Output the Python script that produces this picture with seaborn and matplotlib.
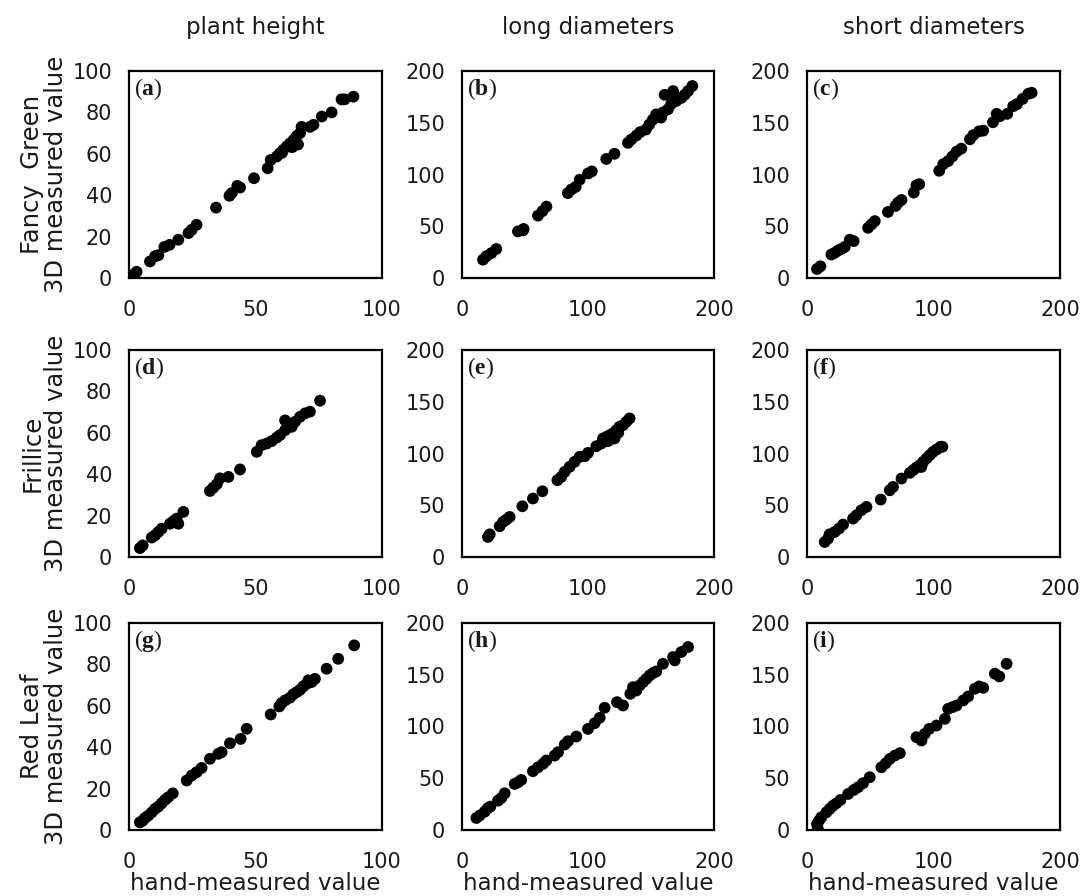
import pandas as pd
import matplotlib.pyplot as plt
import seaborn as sns

sns.set_style("white")
plt.rcParams['font.family'] = ['DejaVu Sans']
plt.rcParams['mathtext.fontset'] = 'custom'
plt.rcParams['mathtext.rm'] = 'Liberation Serif'
plt.rcParams['mathtext.bf'] = 'Liberation Serif:bold'

# column / row headers
col_titles = ['plant height', 'long diameters', 'short diameters']
row_titles = ['Fancy  Green', 'Frillice', 'Red Leaf']
panel_letters = ['a', 'b', 'c', 'd', 'e', 'f', 'g', 'h', 'i']
axis_max = [100, 200, 200]
y_ticks = [[0, 20, 40, 60, 80, 100], [0, 50, 100, 150, 200], [0, 50, 100, 150, 200]]
x_ticks = [[0, 50, 100], [0, 100, 200], [0, 100, 200]]

# (a) Fancy Green - plant height
a_x = [1.7, 3, 8.3, 10.3, 11.6, 14, 16, 19.5, 23.5, 24.8, 26.7, 34.4, 39.7, 40.6, 42.8, 43.9, 49.4, 54.8, 56, 58.4,
       59.7, 61, 62.3, 63.6, 65, 66.3, 67.6, 68.2, 71.5, 72.9, 76.2, 80.1, 84, 85.2, 88.7, 64.5, 66.8, 60.5, 0.8]
a_y = [1.6, 3, 8, 10.5, 11, 15, 16, 18.5, 21.7, 23.3, 25.7, 34, 39.7, 41, 44.5, 43.7, 48.2, 53, 57, 58.7,
       60.3, 61.9, 63.5, 65, 66.6, 68.6, 70, 73, 73, 74, 78, 80, 86.3, 86.3, 87.6, 63.2, 64.5, 60.5, 1.0]
# (b) Fancy Green - long diameters
b_x = [16.7, 19.3, 23.3, 27.2, 44.4, 48.9, 48.4, 60.3, 63.8, 67, 84, 86.8, 90.2, 93.4, 100, 103, 114.5, 121, 131.7,
       134.4, 138.4, 141.5, 146, 148.7, 151.4, 154, 158, 159.5, 163.5, 166, 168.8, 170, 174, 176.7, 179.4, 182.8,
       160.8, 167.5]
b_y = [17.7, 21, 24, 28, 45, 47.4, 46, 60.3, 64.5, 69, 82, 85.5, 88, 95, 101, 103, 115, 120, 130.6,
       133.9, 137.7, 141, 143.5, 148.4, 153, 158, 155, 160, 163, 168, 176, 171, 174, 177, 180.6, 185.5,
       177, 180.6]
# (c) Fancy Green - short diameters
c_x = [7.9, 10.6, 19.3, 21.9, 24.5, 27.2, 29.8, 33.8, 36.9, 48.3, 50.9, 53.6, 64, 70, 72, 74.7, 84.4, 86.5, 88.7,
       104.5, 107.7, 111.6, 115, 118.2, 122, 128.8, 131.4, 136, 139.3, 147, 149.9, 152.5, 158.3, 163, 166, 170.4,
       175, 177.6]
c_y = [8.7, 11.3, 22.7, 24.3, 26.5, 28, 30, 37, 35.6, 48.5, 51.8, 55, 63.8, 69.6, 72.8, 75.4, 82.5, 89.6, 90.6,
       103.6, 110, 113, 117.5, 122, 125, 134, 138, 141.7, 142.4, 150.5, 158.6, 156.3, 158.6, 166, 168, 173,
       178, 179]
# (d) Frillice - plant height
d_x = [4.3, 5.4, 9, 10.3, 11.6, 12.9, 16.2, 17.5, 18.8, 19.5, 21.5, 32, 33.3, 34.7, 36, 39.3, 43.9, 50.5, 52.4,
       54.4, 56.4, 58.4, 59.7, 61.7, 61.7, 63, 64.3, 65.6, 67.6, 69.6, 71.5, 75.5]
d_y = [4.3, 5.6, 9.4, 10.5, 12.1, 13.7, 16.1, 17.3, 18.5, 16.1, 21.8, 31.9, 33.5, 35.2, 38, 38.7, 42.3, 50.8, 54,
       54.8, 56, 57.7, 58.9, 61.3, 66, 63.7, 62.9, 65.3, 67.7, 69.4, 70.2, 75.5]
# (e) Frillice - long diameters
e_x = [20.6, 22, 29.9, 32.5, 35.2, 37.8, 47.9, 56.3, 63.8, 75.7, 78.8, 81.5, 85.4, 89.4, 93.4, 97.4, 100, 106.6,
       110.6, 111.9, 114.6, 117.2, 119.8, 121, 122.5, 125, 127.8, 130.4, 133, 116, 124]
e_y = [19.4, 21.9, 29.7, 33.9, 36.1, 38.7, 49, 56.5, 63.5, 74.2, 77.4, 82.3, 87.1, 92, 96.8, 97.4, 100.6, 107,
       109.7, 114.5, 116, 117.7, 119.4, 114.5, 122.6, 125.8, 127.4, 130.6, 133.9, 112, 120]
# (f) Frillice - short diameters
f_x = [14, 16.6, 17.9, 21.9, 25.3, 28.5, 36.4, 39, 43, 47, 58.3, 65.4, 68, 74.7, 81.3, 83.9, 86.5, 89.2, 90.4,
       91.8, 94.5, 97, 99.7, 102.4, 105.5, 107]
f_y = [14.5, 17.7, 21.9, 24.2, 27.4, 31.3, 37.1, 40.3, 45.2, 48.4, 55.5, 64.5, 67.7, 75.8, 81.3, 83.9, 86.5, 88.7, 87,
       91.9, 95.2, 98.4, 101.6, 103.9, 106.5, 106.5]
# (g) Red Leaf - plant height
g_x = [4.3, 5.4, 6.3, 7.6, 9, 10.3, 11.6, 12.9, 14.2, 15.5, 17.3, 22.8, 24.8, 26.7, 28.7, 32, 35.3, 36.6, 39.9,
       44.1, 46.5, 56, 59.4, 60.3, 61.7, 63.6, 64.9, 66.3, 67.6, 68.9, 70.2, 70.9, 72.2, 73.5, 78.1, 82.7, 89]
g_y = [3.7, 4.5, 5.8, 6.9, 8.5, 10.2, 11.3, 12.9, 14.5, 15.8, 17.7, 23.9, 26.3, 27.9, 30, 34.4, 36.8, 37.6, 41.9,
       44, 48.9, 55.8, 59.7, 61.3, 62.6, 63.9, 65.5, 66.6, 67.7, 69.4, 70.6, 72.3, 71.5, 73, 77.9, 82.7, 89.2]
# (h) Red Leaf - long diameters
h_x = [11.4, 14, 18, 20.6, 22.5, 28.6, 31.2, 33.9, 41.8, 44.4, 47, 56.3, 60.3, 64.3, 66.9, 73.5, 76.2, 81.5, 84.1,
       90.7, 100, 105.3, 109.3, 113.2, 123, 127.8, 133.6, 135.7, 138.4, 141, 143.7, 146.3, 149, 151.6, 154.2,
       159.5, 167.5, 168.8, 174.1, 179.4]
h_y = [11.6, 13.9, 17.7, 21.3, 22.6, 28.4, 31, 35.5, 44.5, 46, 48.4, 56.8, 60.6, 63.9, 67.1, 71.9, 75.2, 82.6, 85.8,
       90.3, 97.7, 103.2, 108.4, 118.1, 123.5, 120.3, 131.6, 138, 134.8, 139.7, 142.9, 146.1, 149.4, 151.6, 153.2,
       160.6, 167.1, 163.9, 172, 176.8]
# (i) Red Leaf - short diameters
i_x = [7.9, 9.5, 11.3, 15.3, 17.9, 20.6, 23.2, 26.4, 32.5, 37, 40.4, 44.3, 49.6, 58.8, 62.3, 65.4, 69.4, 73.4,
       86.5, 90.5, 93.1, 96.6, 102.4, 109, 111.6, 115, 118.2, 123.5, 127.4, 132.7, 136.1, 139.3, 148.5, 152,
       157.8, 8.5]
i_y = [5.8, 9, 12.3, 17.1, 20.3, 23.5, 25.8, 29, 34.8, 38.7, 41.3, 45.2, 51, 60.6, 64.5, 68.7, 71.9, 74.2,
       89.7, 86.5, 92.9, 97.7, 101, 107.4, 117.1, 118.7, 120.3, 125.2, 129, 136.5, 138.7, 137.4, 151, 148.4,
       160.6, 1.5]

panels = [(a_x, a_y), (b_x, b_y), (c_x, c_y),
          (d_x, d_y), (e_x, e_y), (f_x, f_y),
          (g_x, g_y), (h_x, h_y), (i_x, i_y)]

W, H = 1081, 896
fig = plt.figure(figsize=(W / 100, H / 100), dpi=100)

col_left = [129, 462, 807]
col_width = [253, 252, 253]
row_top = [71, 350, 623]
row_height = 207
txt = '#1a1a1a'

for k, (xs, ys) in enumerate(panels):
    r, c = divmod(k, 3)
    ax = fig.add_axes([col_left[c] / W, 1 - (row_top[r] + row_height) / H,
                       col_width[c] / W, row_height / H])
    df = pd.DataFrame({'hand': xs, 'measured': ys})
    sns.scatterplot(data=df, x='hand', y='measured', ax=ax, color='black',
                    s=72, edgecolor='none', linewidth=0)
    lim = axis_max[c]
    ax.set_xlim(0, lim)
    ax.set_ylim(0, lim)
    ax.set_xticks(x_ticks[c])
    ax.set_yticks(y_ticks[c])
    ax.tick_params(axis='both', length=0, labelsize=15, colors=txt)
    ax.tick_params(axis='x', pad=16)
    ax.tick_params(axis='y', pad=12)
    for sp in ax.spines.values():
        sp.set_visible(True)
        sp.set_color('black')
        sp.set_linewidth(1.6)
    ax.text(0.02, 0.975, r'$\mathrm{(}\mathbf{' + panel_letters[k] + r'}\mathrm{)}$',
            transform=ax.transAxes, ha='left', va='top', fontsize=17, color=txt)
    if r == 0:
        ax.set_title(col_titles[c], fontsize=16.5, pad=27, color=txt)
    if c == 0:
        ax.set_ylabel(row_titles[r] + '\n3D measured value', fontsize=17.5,
                      labelpad=3, linespacing=1.0, color=txt)
    else:
        ax.set_ylabel('')
    if r == 2:
        ax.set_xlabel('hand-measured value', fontsize=16.5, labelpad=0, color=txt)
    else:
        ax.set_xlabel('')

fig.savefig('out.png', dpi=100)
